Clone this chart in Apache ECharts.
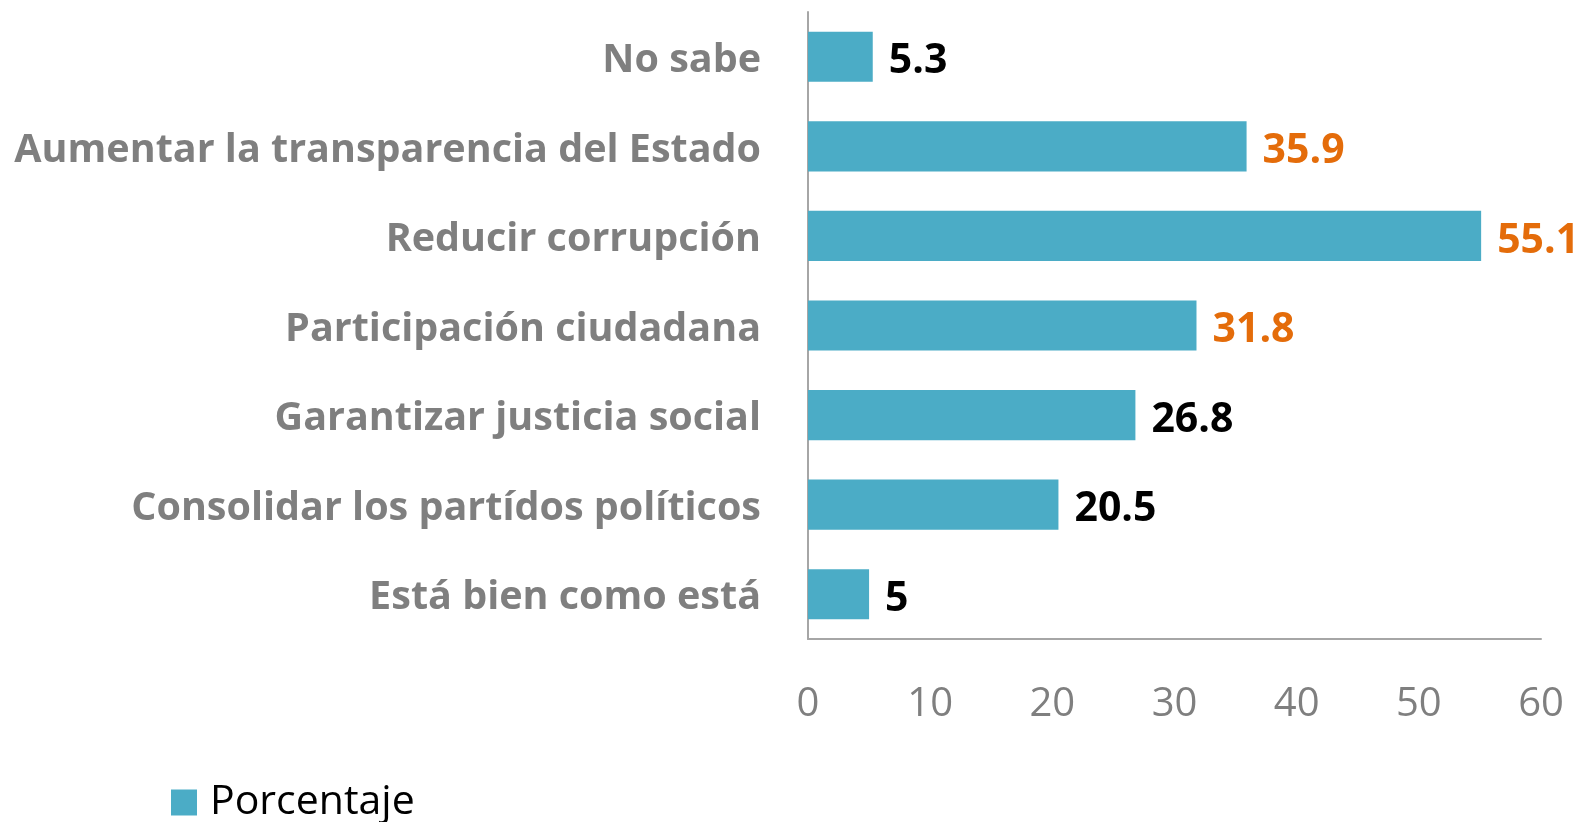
<!DOCTYPE html>
<html>
<head>
<meta charset="utf-8">
<script src="https://cdn.jsdelivr.net/npm/echarts@6/dist/echarts.min.js"></script>
<style>
  html, body { margin: 0; padding: 0; background: #fff; }
  #chart { width: 1585px; height: 822px; }
</style>
</head>
<body>
<div id="chart"></div>
<script>
// categories, top to bottom
const categories = [
  'No sabe',
  'Aumentar la transparencia del Estado',
  'Reducir corrupción',
  'Participación ciudadana',
  'Garantizar justicia social',
  'Consolidar los partídos políticos',
  'Está bien como está'
]
const porcentaje = [5.3, 35.9, 55.1, 31.8, 26.8, 20.5, 5]
// labels shown in orange
const highlighted = ['Aumentar la transparencia del Estado', 'Reducir corrupción', 'Participación ciudadana']
const xTicks = [0, 10, 20, 30, 40, 50, 60]

const colors = {
  bar: '#4BACC6',
  catText: '#7F7F7F',
  tickText: '#7F7F7F',
  axis: '#A6A6A6',
  orange: '#E46C0A',
  black: '#000000'
}
const fontFamily = '"Open Sans", sans-serif'

const chart = echarts.init(document.getElementById('chart'))

const option = {
  backgroundColor: '#fff',
  animation: false,
  grid: { left: 808, right: 44, top: 12, bottom: 183, containLabel: false },
  legend: {
    data: ['Porcentaje'],
    left: 166,
    top: 777,
    itemWidth: 26,
    itemHeight: 26,
    icon: 'rect',
    textStyle: { color: '#000', fontSize: 41, fontFamily, padding: [0, 0, 0, 8] }
  },
  xAxis: {
    type: 'value',
    min: xTicks[0],
    max: xTicks[xTicks.length - 1],
    interval: 10,
    splitLine: { show: false },
    axisLine: { show: true, lineStyle: { color: colors.axis, width: 2 } },
    axisTick: { show: false },
    axisLabel: { color: colors.tickText, fontSize: 40, fontFamily, margin: 46 }
  },
  yAxis: {
    type: 'category',
    inverse: true,
    data: categories,
    axisLine: { show: true, lineStyle: { color: colors.axis, width: 2 } },
    axisTick: { show: false },
    axisLabel: {
      margin: 47,
      formatter: v => '{c|' + v + '}',
      rich: {
        c: { color: colors.catText, fontSize: 39.5, fontWeight: 'bold', fontFamily, padding: [8, 0, 0, 0] }
      }
    }
  },
  series: [{
    name: 'Porcentaje',
    type: 'bar',
    data: porcentaje.map((v, i) => ({
      value: v,
      label: { color: highlighted.includes(categories[i]) ? colors.orange : colors.black }
    })),
    barCategoryGap: '44%',
    itemStyle: { color: colors.bar },
    label: {
      show: true,
      position: 'right',
      distance: 16,
      offset: [0, 5],
      fontSize: 41,
      fontWeight: 'bold',
      fontFamily
    }
  }]
}

chart.setOption(option)
</script>
</body>
</html>
